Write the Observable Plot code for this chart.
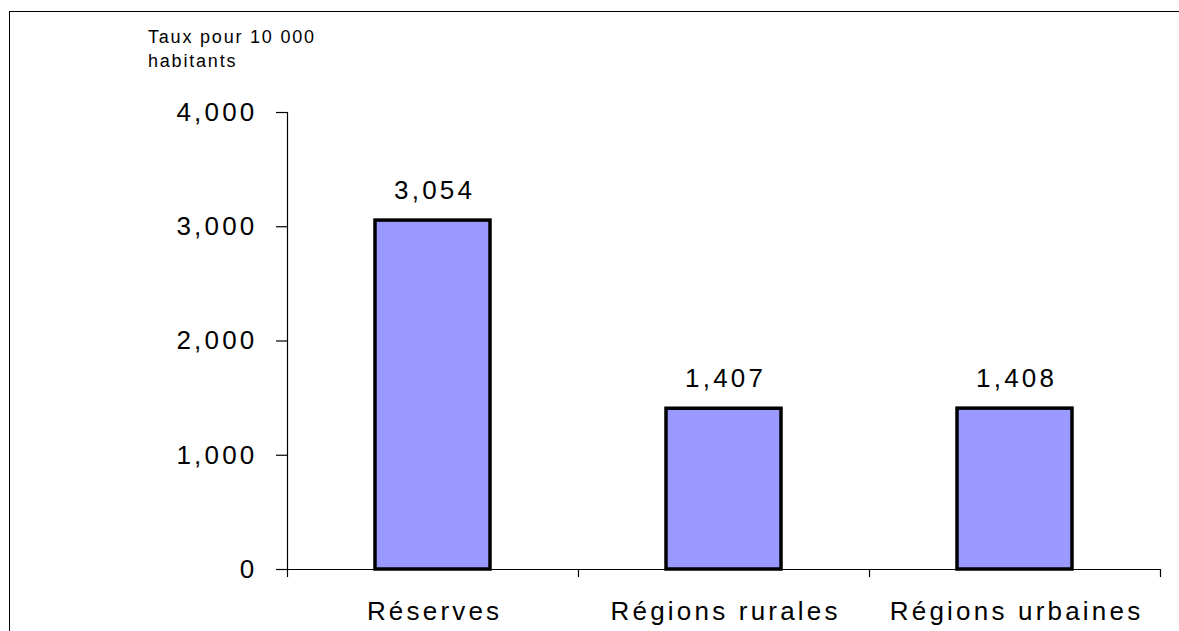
<!DOCTYPE html>
<html>
<head>
<meta charset="utf-8">
<script src="https://cdn.jsdelivr.net/npm/d3@7"></script>
<script src="https://cdn.jsdelivr.net/npm/@observablehq/plot@0.6"></script>
<style>
  html, body { margin: 0; padding: 0; background: #fff; overflow: hidden; width: 1179px; height: 631px; }
  #frame { position: absolute; left: 9px; top: 11px; width: 1300px; height: 800px; border-left: 1.5px solid #000; border-top: 1.5px solid #000; }
  #chart { position: absolute; left: 0; top: 0; }
  #chart svg text { letter-spacing: 3.2px; }
  #ytitle { position: absolute; left: 148px; top: 25px; font-family: "Liberation Sans", Arial, sans-serif; font-size: 18px; line-height: 24px; letter-spacing: 1.8px; color: #000; }
</style>
</head>
<body>
<div id="frame"></div>
<div id="chart"></div>
<div id="ytitle">Taux pour 10 000<br>habitants</div>
<script>
const categories = ["Réserves", "Régions rurales", "Régions urbaines"];
const values = [3054, 1407, 1408];
const yTicks = [0, 1000, 2000, 3000, 4000];
const yDomain = [0, 4000];

const data = categories.map((c, i) => ({category: c, index: i, value: values[i]}));
const boundaries = d3.range(categories.length + 1);
const fmt = d3.format(",");

const chart = Plot.plot({
  width: 1179,
  height: 631,
  marginLeft: 287,
  marginRight: 19,
  marginTop: 112,
  marginBottom: 62,
  style: {fontFamily: "'Liberation Sans', Arial, sans-serif", background: "transparent", color: "#000"},
  x: {type: "linear", domain: [0, categories.length], axis: null},
  y: {domain: yDomain, axis: null},
  marks: [
    Plot.axisY({ticks: yTicks, tickFormat: fmt, tickSize: 11, tickPadding: 19, fontSize: 26, label: null, strokeWidth: 1.2}),
    Plot.axisX({ticks: boundaries, tickFormat: () => "", tickSize: 8, label: null, strokeWidth: 1.2}),
    Plot.ruleX([0], {stroke: "#000", strokeWidth: 1.2}),
    Plot.ruleY([0], {stroke: "#000", strokeWidth: 1.2}),
    Plot.rectY(data, {x1: "index", x2: d => d.index + 1, y: "value", fill: "#9999FF", stroke: "#000", strokeWidth: 3.5, insetLeft: 88, insetRight: 88}),
    Plot.text(data, {x: d => d.index + 0.5, y: "value", text: d => fmt(d.value), dy: -22, dx: 1.6, lineAnchor: "bottom", fontSize: 26, fill: "#000"}),
    Plot.text(data, {x: d => d.index + 0.5, y: 0, text: "category", dy: 50, dx: 1.6, lineAnchor: "bottom", fontSize: 26, fill: "#000"})
  ]
});
document.getElementById("chart").appendChild(chart);
</script>
</body>
</html>
